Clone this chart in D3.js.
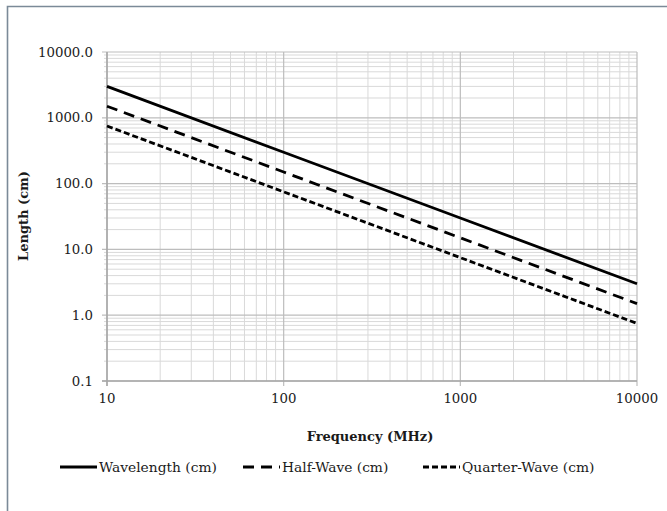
<!DOCTYPE html>
<html><head><meta charset="utf-8">
<script src="https://cdn.jsdelivr.net/npm/d3@7"></script>
<style>body{margin:0;background:#fff}svg{display:block}</style>
</head><body>
<script>
const frequencies = [10, 100, 1000, 10000];
const wavelength = [3000, 300, 30, 3];
const halfWave = [1500, 150, 15, 1.5];
const quarterWave = [750, 75, 7.5, 0.75];
const seriesNames = ["Wavelength (cm)", "Half-Wave (cm)", "Quarter-Wave (cm)"];
const xTickLabels = ["10", "100", "1000", "10000"];
const yTickLabels = ["0.1", "1.0", "10.0", "100.0", "1000.0", "10000.0"];
const yTickValues = [0.1, 1, 10, 100, 1000, 10000];

const W = 667, H = 511;
const svg = d3.select("body").append("svg").attr("width", W).attr("height", H);
const font = "'DejaVu Serif', serif";

// outer frame
svg.append("path").attr("d", `M7.5,${H} V6.5 H${W}`).attr("fill","none")
  .attr("stroke","#7b8a98").attr("stroke-width",1.6);

const x = d3.scaleLog().domain([10, 10000]).range([107, 637]);
const y = d3.scaleLog().domain([0.1, 10000]).range([381, 52]);

// minor grid
const minorX = [], minorY = [];
for (let d = 10; d < 10000; d *= 10) for (let k = 2; k <= 9; k++) minorX.push(d * k);
for (let d = 0.1; d < 9999; d *= 10) for (let k = 2; k <= 9; k++) minorY.push(+(d * k).toPrecision(3));
const g = svg.append("g");
g.selectAll(".mx").data(minorX).join("line")
  .attr("x1", d => x(d)).attr("x2", d => x(d)).attr("y1", y(0.1)).attr("y2", y(10000))
  .attr("stroke", "#d9d9d9").attr("stroke-width", 1);
g.selectAll(".my").data(minorY).join("line")
  .attr("y1", d => y(d)).attr("y2", d => y(d)).attr("x1", x(10) - 3).attr("x2", x(10000))
  .attr("stroke", "#d9d9d9").attr("stroke-width", 1);
// major grid
g.selectAll(".Mx").data(frequencies).join("line")
  .attr("x1", d => x(d)).attr("x2", d => x(d)).attr("y1", y(0.1) + 5).attr("y2", y(10000))
  .attr("stroke", "#bdbdbd").attr("stroke-width", 1.2);
g.selectAll(".My").data(yTickValues).join("line")
  .attr("y1", d => y(d)).attr("y2", d => y(d)).attr("x1", x(10) - 5).attr("x2", x(10000))
  .attr("stroke", "#bdbdbd").attr("stroke-width", 1.2);

// axes lines
svg.append("line").attr("x1", x(10)).attr("x2", x(10)).attr("y1", y(10000)).attr("y2", y(0.1) + 5)
  .attr("stroke", "#a6a6a6").attr("stroke-width", 1.5);
svg.append("line").attr("x1", x(10) - 5).attr("x2", x(10000)).attr("y1", y(0.1)).attr("y2", y(0.1))
  .attr("stroke", "#a6a6a6").attr("stroke-width", 1.5);

// tick labels
svg.selectAll(".yl").data(yTickValues).join("text")
  .attr("x", 93).attr("y", d => y(d)).attr("dy", "0.35em").attr("text-anchor", "end")
  .attr("font-family", font).attr("font-size", 13.3).attr("fill", "#1a1a1a")
  .text((d, i) => yTickLabels[i]);
svg.selectAll(".xl").data(frequencies).join("text")
  .attr("x", d => x(d)).attr("y", 403).attr("text-anchor", "middle")
  .attr("font-family", font).attr("font-size", 13.3).attr("fill", "#1a1a1a")
  .text((d, i) => xTickLabels[i]);

// axis titles
svg.append("text").attr("x", 370).attr("y", 441).attr("text-anchor", "middle")
  .attr("font-family", font).attr("font-weight", "bold").attr("font-size", 13).attr("fill", "#1a1a1a")
  .text("Frequency (MHz)");
svg.append("text").attr("transform", "translate(28,216) rotate(-90)").attr("text-anchor", "middle")
  .attr("font-family", font).attr("font-weight", "bold").attr("font-size", 13).attr("fill", "#1a1a1a")
  .text("Length (cm)");

// series
const series = [
  { name: seriesNames[0], values: wavelength, dash: null },
  { name: seriesNames[1], values: halfWave, dash: "11,7" },
  { name: seriesNames[2], values: quarterWave, dash: "6,3" }
];
const line = d3.line().x(d => x(d[0])).y(d => y(d[1]));
series.forEach(s => {
  svg.append("path").datum(frequencies.map((f, i) => [f, s.values[i]]))
    .attr("d", line).attr("fill", "none").attr("stroke", "#000").attr("stroke-width", 2.8)
    .attr("stroke-dasharray", s.dash);
});

// legend
const legendX = [60, 243, 423];
series.forEach((s, i) => {
  const lx = legendX[i], ly = 467;
  svg.append("line").attr("x1", lx).attr("x2", lx + 37).attr("y1", ly).attr("y2", ly)
    .attr("stroke", "#000").attr("stroke-width", 2.8).attr("stroke-dasharray", s.dash);
  svg.append("text").attr("x", lx + 39).attr("y", ly).attr("dy", "0.35em")
    .attr("font-family", font).attr("font-size", 13.8).attr("fill", "#1a1a1a").text(s.name);
});
</script>
</body></html>
